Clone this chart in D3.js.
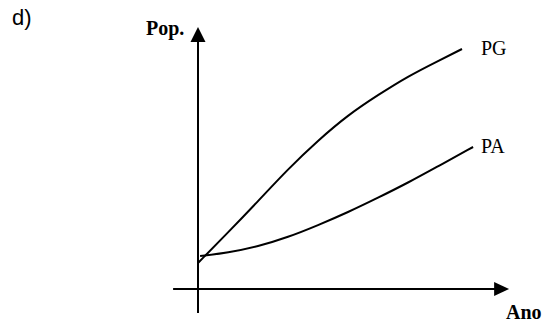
<!DOCTYPE html>
<html>
<head>
<meta charset="utf-8">
<script src="https://cdn.jsdelivr.net/npm/d3@7"></script>
<style>
  body { margin: 0; background: #fff; }
  svg { display: block; }
</style>
</head>
<body>
<div id="chart"></div>
<script>
// time index (0..100) and population (0..100)
const pgYears = [0, 10, 20, 30, 40, 50, 60, 70, 80, 88];
const pgPop = [10.4, 22.6, 35.1, 48.0, 59.4, 69.6, 77.6, 85.1, 91.2, 96.0];
const paYears = [0.7, 10, 20, 30, 40, 50, 60, 70, 80, 91.7];
const paPop = [13.2, 14.5, 17.0, 20.7, 25.5, 30.7, 36.5, 42.5, 49.1, 56.8];
const seriesNames = ["PG", "PA"];
const axisLabels = {x: "Ano", y: "Pop."};
const xExtent = [-8.3, 103.7];
const yExtent = [-9.6, 104.8];

const width = 547, height = 322;

const svg = d3.select("#chart").append("svg")
    .attr("width", width)
    .attr("height", height);

const xScale = d3.scaleLinear().domain([0, 100]).range([198, 498]);
const yScale = d3.scaleLinear().domain([0, 100]).range([289, 39]);

const series = [
    {name: seriesNames[0], values: pgYears.map((d, i) => ({x: d, y: pgPop[i]}))},
    {name: seriesNames[1], values: paYears.map((d, i) => ({x: d, y: paPop[i]}))}
];

// axes with arrow heads
const x0 = xScale(0), y0 = yScale(0);
const xEnd = xScale(xExtent[1]), yEnd = yScale(yExtent[1]);

svg.append("line")
    .attr("x1", xScale(xExtent[0])).attr("x2", xEnd - 12)
    .attr("y1", y0).attr("y2", y0)
    .attr("stroke", "#000").attr("stroke-width", 2);

svg.append("line")
    .attr("x1", x0).attr("x2", x0)
    .attr("y1", yScale(yExtent[0])).attr("y2", yEnd + 12)
    .attr("stroke", "#000").attr("stroke-width", 2);

svg.append("path")
    .attr("d", `M${xEnd},${y0} L${xEnd - 15},${y0 - 7} L${xEnd - 15},${y0 + 7} Z`)
    .attr("fill", "#000");

svg.append("path")
    .attr("d", `M${x0},${yEnd} L${x0 - 7.5},${yEnd + 15} L${x0 + 7.5},${yEnd + 15} Z`)
    .attr("fill", "#000");

// curves
const line = d3.line()
    .x(d => xScale(d.x))
    .y(d => yScale(d.y))
    .curve(d3.curveBasis);

svg.selectAll(".curve")
    .data(series)
    .join("path")
    .attr("class", "curve")
    .attr("d", d => line(d.values))
    .attr("fill", "none")
    .attr("stroke", "#000")
    .attr("stroke-width", 2);

svg.selectAll(".curve-label")
    .data(series)
    .join("text")
    .attr("class", "curve-label")
    .attr("x", 481)
    .attr("y", d => yScale(d.values[d.values.length - 1].y) + 6)
    .style("font-family", "'Liberation Serif', 'Times New Roman', serif")
    .style("font-size", "20px")
    .text(d => d.name);

svg.append("text")
    .attr("x", 146).attr("y", 35)
    .style("font-family", "'Liberation Serif', 'Times New Roman', serif")
    .style("font-weight", "bold")
    .style("font-size", "20px")
    .text(axisLabels.y);

svg.append("text")
    .attr("x", 506).attr("y", 319)
    .style("font-family", "'Liberation Serif', 'Times New Roman', serif")
    .style("font-weight", "bold")
    .style("font-size", "20px")
    .text(axisLabels.x);

svg.append("text")
    .attr("x", 12).attr("y", 25)
    .style("font-family", "'Liberation Sans', Arial, sans-serif")
    .style("font-size", "22px")
    .text("d)");
</script>
</body>
</html>
